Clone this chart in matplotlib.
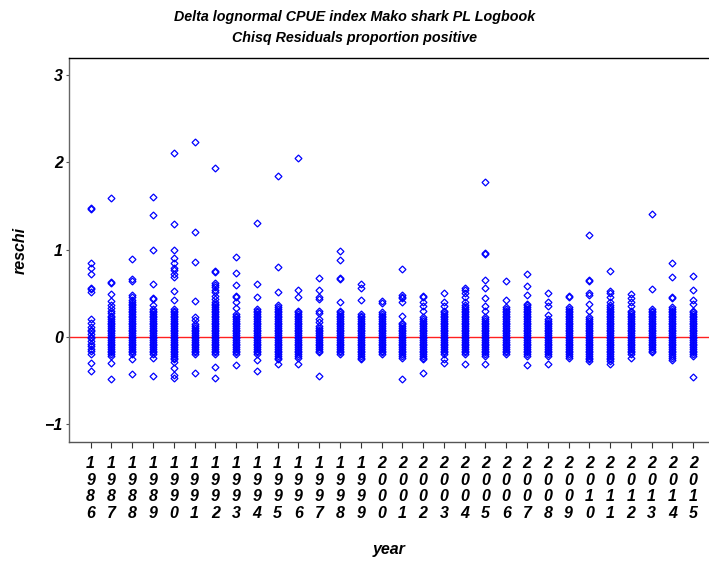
import matplotlib
matplotlib.use("Agg")
import matplotlib.pyplot as plt

plt.rcParams['font.family'] = ['Liberation Sans', 'DejaVu Sans']

# 年份
years = list(range(1986, 2016))

# 每年的卡方残差（从图上读取；密集的部分按 0.02 一格读）
r1986 = [1.48, 1.47, 0.84, 0.79, 0.72, 0.56, 0.55, 0.51, 0.20, 0.16, 0.11, 0.08, 0.06, 0.03, 0.00,
         -0.02, -0.05, -0.08, -0.11, -0.14, -0.17, -0.20, -0.30, -0.39]
r1987 = [1.59, 0.63, 0.62, 0.49, 0.41, 0.36, 0.33, 0.30, 0.27,
         0.24, 0.22, 0.20, 0.18, 0.16, 0.14, 0.12, 0.10, 0.08, 0.06, 0.04, 0.02, 0.00,
         -0.02, -0.04, -0.06, -0.08, -0.10, -0.12, -0.14, -0.16, -0.18, -0.20, -0.22,
         -0.30, -0.49]
r1988 = [0.89, 0.66, 0.64, 0.48, 0.46,
         0.42, 0.40, 0.38, 0.36, 0.34, 0.32, 0.30, 0.28, 0.26, 0.24, 0.22, 0.20, 0.18, 0.16,
         0.14, 0.12, 0.10, 0.08, 0.06, 0.04, 0.02, 0.00, -0.02, -0.04, -0.06, -0.08, -0.10,
         -0.12, -0.14, -0.16, -0.18, -0.20,
         -0.26, -0.43]
r1989 = [1.60, 1.40, 0.99, 0.61, 0.44, 0.43, 0.36,
         0.32, 0.30, 0.28, 0.26, 0.24, 0.22, 0.20, 0.18, 0.16, 0.14, 0.12, 0.10, 0.08, 0.06,
         0.04, 0.02, 0.00, -0.02, -0.04, -0.06, -0.08, -0.10, -0.12, -0.14, -0.16, -0.18, -0.20,
         -0.24, -0.45]
r1990 = [2.11, 1.29, 0.99, 0.90, 0.85, 0.79, 0.77, 0.72, 0.69, 0.52, 0.42,
         0.32, 0.30, 0.28, 0.26, 0.24, 0.22, 0.20, 0.18, 0.16, 0.14, 0.12, 0.10, 0.08, 0.06,
         0.04, 0.02, 0.00, -0.02, -0.04, -0.06, -0.08, -0.10, -0.12, -0.14, -0.16, -0.18, -0.20,
         -0.22, -0.24, -0.26,
         -0.29, -0.36, -0.44, -0.47]
r1991 = [2.23, 1.20, 0.86, 0.41, 0.23, 0.19,
         0.14, 0.12, 0.10, 0.08, 0.06, 0.04, 0.02, 0.00, -0.02, -0.04, -0.06, -0.08, -0.10,
         -0.12, -0.14, -0.16, -0.18, -0.20,
         -0.42]
r1992 = [1.94, 0.75, 0.74, 0.62, 0.59, 0.57, 0.54, 0.51, 0.47, 0.43,
         0.40, 0.38, 0.36, 0.34, 0.32, 0.30, 0.28, 0.26, 0.24, 0.22, 0.20, 0.18, 0.16, 0.14,
         0.12, 0.10, 0.08, 0.06, 0.04, 0.02, 0.00, -0.02, -0.04, -0.06, -0.08, -0.10, -0.12,
         -0.14, -0.16, -0.18, -0.20,
         -0.35, -0.47]
r1993 = [0.92, 0.73, 0.59, 0.47, 0.45, 0.40, 0.33,
         0.26, 0.24, 0.22, 0.20, 0.18, 0.16, 0.14, 0.12, 0.10, 0.08, 0.06, 0.04, 0.02, 0.00,
         -0.02, -0.04, -0.06, -0.08, -0.10, -0.12, -0.14, -0.16, -0.18, -0.20,
         -0.32]
r1994 = [1.30, 0.60, 0.45,
         0.32, 0.30, 0.28, 0.26, 0.24, 0.22, 0.20, 0.18, 0.16, 0.14, 0.12, 0.10, 0.08, 0.06,
         0.04, 0.02, 0.00, -0.02, -0.04, -0.06, -0.08, -0.10, -0.12, -0.14, -0.16, -0.18, -0.20,
         -0.27, -0.39]
r1995 = [1.85, 0.80, 0.51,
         0.36, 0.34, 0.32, 0.30, 0.28, 0.26, 0.24, 0.22, 0.20, 0.18, 0.16, 0.14, 0.12, 0.10,
         0.08, 0.06, 0.04, 0.02, 0.00, -0.02, -0.04, -0.06, -0.08, -0.10, -0.12, -0.14, -0.16,
         -0.18, -0.20, -0.22, -0.24, -0.26,
         -0.31]
r1996 = [2.05, 0.53, 0.46,
         0.30, 0.28, 0.26, 0.24, 0.22, 0.20, 0.18, 0.16, 0.14, 0.12, 0.10, 0.08, 0.06, 0.04,
         0.02, 0.00, -0.02, -0.04, -0.06, -0.08, -0.10, -0.12, -0.14, -0.16, -0.18, -0.20,
         -0.22, -0.24,
         -0.31]
r1997 = [0.67, 0.54, 0.45, 0.43, 0.29, 0.27, 0.20, 0.17,
         0.12, 0.10, 0.08, 0.06, 0.04, 0.02, 0.00, -0.02, -0.04, -0.06, -0.08, -0.10, -0.12,
         -0.14, -0.16, -0.18,
         -0.45]
r1998 = [0.98, 0.88, 0.67, 0.66, 0.40,
         0.30, 0.28, 0.26, 0.24, 0.22, 0.20, 0.18, 0.16, 0.14, 0.12, 0.10, 0.08, 0.06, 0.04,
         0.02, 0.00, -0.02, -0.04, -0.06, -0.08, -0.10, -0.12, -0.14, -0.16, -0.18, -0.20]
r1999 = [0.60, 0.56, 0.42,
         0.26, 0.24, 0.22, 0.20, 0.18, 0.16, 0.14, 0.12, 0.10, 0.08, 0.06, 0.04, 0.02, 0.00,
         -0.02, -0.04, -0.06, -0.08, -0.10, -0.12, -0.14, -0.16, -0.18, -0.20, -0.22, -0.24,
         -0.26]
r2000 = [0.41, 0.39, 0.28,
         0.26, 0.24, 0.22, 0.20, 0.18, 0.16, 0.14, 0.12, 0.10, 0.08, 0.06, 0.04, 0.02, 0.00,
         -0.02, -0.04, -0.06, -0.08, -0.10, -0.12, -0.14, -0.16, -0.18, -0.20]
r2001 = [0.78, 0.48, 0.46, 0.44, 0.40, 0.24,
         0.16, 0.14, 0.12, 0.10, 0.08, 0.06, 0.04, 0.02, 0.00, -0.02, -0.04, -0.06, -0.08,
         -0.10, -0.12, -0.14, -0.16, -0.18, -0.20, -0.22, -0.24,
         -0.49]
r2002 = [0.47, 0.45, 0.40, 0.35, 0.30,
         0.22, 0.20, 0.18, 0.16, 0.14, 0.12, 0.10, 0.08, 0.06, 0.04, 0.02, 0.00, -0.02, -0.04,
         -0.06, -0.08, -0.10, -0.12, -0.14, -0.16, -0.18, -0.20, -0.22, -0.24, -0.26,
         -0.42]
r2003 = [0.50, 0.40, 0.35,
         0.30, 0.28, 0.26, 0.24, 0.22, 0.20, 0.18, 0.16, 0.14, 0.12, 0.10, 0.08, 0.06, 0.04,
         0.02, 0.00, -0.02, -0.04, -0.06, -0.08, -0.10, -0.12, -0.14, -0.16, -0.18, -0.20,
         -0.26, -0.30]
r2004 = [0.56, 0.53, 0.50, 0.45, 0.40,
         0.36, 0.34, 0.32, 0.30, 0.28, 0.26, 0.24, 0.22, 0.20, 0.18, 0.16, 0.14, 0.12, 0.10,
         0.08, 0.06, 0.04, 0.02, 0.00, -0.02, -0.04, -0.06, -0.08, -0.10, -0.12, -0.14, -0.16,
         -0.18, -0.20,
         -0.31]
r2005 = [1.78, 0.96, 0.95, 0.65, 0.56, 0.44, 0.35, 0.30,
         0.22, 0.20, 0.18, 0.16, 0.14, 0.12, 0.10, 0.08, 0.06, 0.04, 0.02, 0.00, -0.02, -0.04,
         -0.06, -0.08, -0.10, -0.12, -0.14, -0.16, -0.18, -0.20, -0.22,
         -0.31]
r2006 = [0.64, 0.42,
         0.34, 0.32, 0.30, 0.28, 0.26, 0.24, 0.22, 0.20, 0.18, 0.16, 0.14, 0.12, 0.10, 0.08,
         0.06, 0.04, 0.02, 0.00, -0.02, -0.04, -0.06, -0.08, -0.10, -0.12, -0.14, -0.16, -0.18,
         -0.20]
r2007 = [0.72, 0.58, 0.48,
         0.38, 0.36, 0.34, 0.32, 0.30, 0.28, 0.26, 0.24, 0.22, 0.20, 0.18, 0.16, 0.14, 0.12,
         0.10, 0.08, 0.06, 0.04, 0.02, 0.00, -0.02, -0.04, -0.06, -0.08, -0.10, -0.12, -0.14,
         -0.16, -0.18, -0.20, -0.22,
         -0.32]
r2008 = [0.50, 0.40, 0.35, 0.25,
         0.20, 0.18, 0.16, 0.14, 0.12, 0.10, 0.08, 0.06, 0.04, 0.02, 0.00, -0.02, -0.04, -0.06,
         -0.08, -0.10, -0.12, -0.14, -0.16, -0.18, -0.20, -0.22,
         -0.31]
r2009 = [0.47, 0.46,
         0.34, 0.32, 0.30, 0.28, 0.26, 0.24, 0.22, 0.20, 0.18, 0.16, 0.14, 0.12, 0.10, 0.08,
         0.06, 0.04, 0.02, 0.00, -0.02, -0.04, -0.06, -0.08, -0.10, -0.12, -0.14, -0.16, -0.18,
         -0.20, -0.22, -0.24]
r2010 = [1.17, 0.65, 0.64, 0.50, 0.48, 0.37, 0.30,
         0.22, 0.20, 0.18, 0.16, 0.14, 0.12, 0.10, 0.08, 0.06, 0.04, 0.02, 0.00, -0.02, -0.04,
         -0.06, -0.08, -0.10, -0.12, -0.14, -0.16, -0.18, -0.20, -0.22, -0.24, -0.26, -0.28]
r2011 = [0.75, 0.52, 0.50, 0.45, 0.40,
         0.36, 0.34, 0.32, 0.30, 0.28, 0.26, 0.24, 0.22, 0.20, 0.18, 0.16, 0.14, 0.12, 0.10,
         0.08, 0.06, 0.04, 0.02, 0.00, -0.02, -0.04, -0.06, -0.08, -0.10, -0.12, -0.14, -0.16,
         -0.18, -0.20, -0.22, -0.24, -0.26,
         -0.28, -0.31]
r2012 = [0.49, 0.44, 0.40, 0.35,
         0.30, 0.28, 0.26, 0.24, 0.22, 0.20, 0.18, 0.16, 0.14, 0.12, 0.10, 0.08, 0.06, 0.04,
         0.02, 0.00, -0.02, -0.04, -0.06, -0.08, -0.10, -0.12, -0.14, -0.16, -0.18, -0.20,
         -0.24]
r2013 = [1.41, 0.55,
         0.32, 0.30, 0.28, 0.26, 0.24, 0.22, 0.20, 0.18, 0.16, 0.14, 0.12, 0.10, 0.08, 0.06,
         0.04, 0.02, 0.00, -0.02, -0.04, -0.06, -0.08, -0.10, -0.12, -0.14, -0.16, -0.18]
r2014 = [0.85, 0.68, 0.45, 0.44,
         0.34, 0.32, 0.30, 0.28, 0.26, 0.24, 0.22, 0.20, 0.18, 0.16, 0.14, 0.12, 0.10, 0.08,
         0.06, 0.04, 0.02, 0.00, -0.02, -0.04, -0.06, -0.08, -0.10, -0.12, -0.14, -0.16, -0.18,
         -0.20, -0.22, -0.24,
         -0.27]
r2015 = [0.70, 0.53, 0.42, 0.38,
         0.30, 0.28, 0.26, 0.24, 0.22, 0.20, 0.18, 0.16, 0.14, 0.12, 0.10, 0.08, 0.06, 0.04,
         0.02, 0.00, -0.02, -0.04, -0.06, -0.08, -0.10, -0.12, -0.14, -0.16, -0.18, -0.20,
         -0.22,
         -0.46]

reschi = [r1986, r1987, r1988, r1989, r1990, r1991, r1992, r1993, r1994, r1995,
          r1996, r1997, r1998, r1999, r2000, r2001, r2002, r2003, r2004, r2005,
          r2006, r2007, r2008, r2009, r2010, r2011, r2012, r2013, r2014, r2015]

yticks = [-1, 0, 1, 2, 3]
# 年份竖着写，一位数字一行
xlabels = ['\n'.join(str(y)) for y in years]

fig = plt.figure(figsize=(7.09, 5.62), dpi=100)
ax = fig.add_axes([69 / 709, 120 / 562, 640 / 709, 384 / 562])

ax.axhline(0, color='#ff2020', linewidth=1.0, zorder=1)

for yr, vals in zip(years, reschi):
    ax.plot([yr] * len(vals), vals, linestyle='none', marker='D', markersize=3.5,
            markerfacecolor='none', markeredgecolor='blue', markeredgewidth=0.9, zorder=2)

ax.set_xlim(1984.96, 2015.76)
ax.set_ylim(-1.21, 3.2)

tick_font = dict(family=['Liberation Sans', 'DejaVu Sans'], style='italic', weight='bold', size=11.5)

ax.set_yticks(yticks)
ax.set_yticklabels([str(v).replace('-', '\u2212') for v in yticks], **tick_font)
ax.set_xticks(years)
ax.set_xticklabels(xlabels, linespacing=1.15, **tick_font)

ax.tick_params(axis='x', direction='out', length=4, width=0.8, color='#333333', pad=6)
ax.tick_params(axis='y', direction='out', length=2.5, width=0.8, color='#555555', pad=2)

ax.spines['right'].set_visible(False)
ax.spines['top'].set_color('black')
ax.spines['left'].set_color('#666666')
ax.spines['bottom'].set_color('#555555')
for s in ['top', 'left', 'bottom']:
    ax.spines[s].set_linewidth(1.0)

ax.set_xlabel('year', fontsize=11.5, style='italic', weight='bold', labelpad=15)
ax.set_ylabel('reschi', fontsize=11.5, style='italic', weight='bold', labelpad=12)

fig.text(0.5, 1 - 17 / 562, 'Delta lognormal CPUE index Mako shark PL Logbook',
         ha='center', va='center', fontsize=10.3, style='italic', weight='bold')
fig.text(0.5, 1 - 38 / 562, 'Chisq Residuals proportion positive',
         ha='center', va='center', fontsize=10.3, style='italic', weight='bold')

fig.savefig('out.png', dpi=100)
